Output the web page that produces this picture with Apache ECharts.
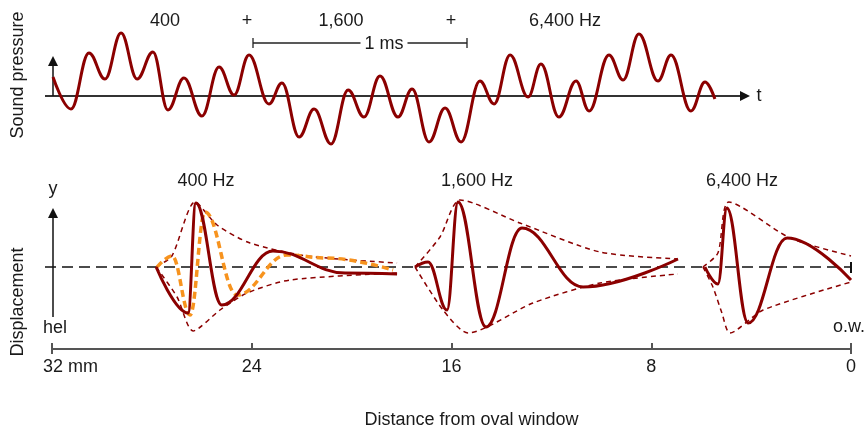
<!DOCTYPE html>
<html>
<head>
<meta charset="utf-8">
<script src="https://cdn.jsdelivr.net/npm/echarts@6/dist/echarts.min.js"></script>
<style>
  html, body { margin: 0; padding: 0; background: #fff; }
  #main { width: 865px; height: 432px; }
</style>
</head>
<body>
<div id="main"></div>
<script>
// top: sound pressure vs time (ms), peaks and troughs
var waveT = [0.000, 0.084, 0.168, 0.243, 0.318, 0.393, 0.467, 0.537, 0.612, 0.696,
             0.776, 0.846, 0.916, 1.009, 1.070, 1.150, 1.220, 1.299, 1.379, 1.453,
             1.528, 1.612, 1.678, 1.757, 1.832, 1.907, 1.995, 2.061, 2.136, 2.220,
             2.280, 2.364, 2.444, 2.505, 2.598, 2.664, 2.738, 2.827, 2.888, 2.981,
             3.047, 3.093];
var waveP = [1.9, -1.3, 4.3, 1.7, 6.3, 1.7, 4.4, -1.4, 1.8, -2.0,
             2.9, 0.1, 4.1, -0.8, 1.3, -4.1, -1.3, -4.8, 0.6, -2.1,
             2.0, -2.1, 0.7, -4.6, -1.2, -4.6, 1.5, -0.8, 4.1, -0.1,
             3.2, -2.1, 1.5, -1.5, 4.1, 1.6, 6.2, 1.5, 4.1, -1.5,
             1.4, -0.3];

// bottom: displacement vs distance from oval window (mm)
var w400D = [27.83, 26.55, 26.24, 25.20, 23.15, 20.26, 18.18];
var w400Y = [0, -4.6, 6.4, -3.8, 1.6, -0.6, -0.7];
var q400D = [27.79, 27.19, 26.47, 25.87, 24.59, 22.59, 20.99, 18.34];
var q400Y = [0, 1.1, -4.8, 5.5, -2.8, 1.2, 0.9, -0.3];
var up400D = [27.83, 27.20, 26.27, 25.39, 24.07, 21.79, 18.18];
var up400Y = [0, 1.1, 6.5, 4.2, 2.4, 1.1, 0.4];
var lo400D = [27.83, 26.99, 26.35, 25.27, 24.19, 22.47, 18.18];
var lo400Y = [0, -3.0, -6.4, -4.3, -2.6, -1.3, -0.6];

var w1600D = [17.46, 16.94, 16.18, 15.74, 14.62, 13.18, 10.73, 6.93];
var w1600Y = [0, 0.5, -4.3, 6.5, -6.0, 3.9, -2.0, 0.8];
var up1600D = [17.46, 16.46, 15.66, 13.26, 10.05, 6.93];
var up1600Y = [0, 3.0, 6.7, 4.4, 1.5, 0.8];
var lo1600D = [17.46, 16.34, 15.34, 12.74, 10.05, 6.93];
var lo1600Y = [0, -4.3, -6.6, -3.6, -1.6, -0.7];

var w6400D = [5.85, 5.33, 4.97, 4.12, 2.56, 0];
var w6400Y = [0, -1.7, 5.9, -5.6, 2.9, -1.3];
var up6400D = [5.93, 5.33, 4.89, 2.44, 0];
var up6400Y = [0, 1.4, 6.5, 2.9, 1.1];
var lo6400D = [5.93, 5.53, 5.17, 4.85, 3.52, 0];
var lo6400Y = [0, -2.0, -4.6, -6.6, -4.3, -1.5];

var distTicks = [32, 24, 16, 8, 0];

var RED = '#8b0000';
var ORANGE = '#f7931e';
var AX = '#333';
var FONT = 'Liberation Sans, Arial, sans-serif';
var FS = 18;

function pairs(xs, ys) {
    return xs.map(function (x, i) { return [x, ys[i]]; });
}

function wave(xs, ys, g) {
    return {
        type: 'line', xAxisIndex: g, yAxisIndex: g,
        data: pairs(xs, ys), smooth: 0.4, smoothMonotone: 'x',
        symbol: 'none', silent: true, clip: false,
        lineStyle: { color: RED, width: 3 }
    };
}
function envelope(xs, ys) {
    return {
        type: 'line', xAxisIndex: 1, yAxisIndex: 1,
        data: pairs(xs, ys), smooth: 0.25,
        symbol: 'none', silent: true, clip: false,
        lineStyle: { color: RED, width: 1.5, type: [5, 4] }
    };
}

function txt(x, y, s, opt) {
    var style = { text: s, x: 0, y: 0, fill: '#1a1a1a', font: FS + 'px ' + FONT,
                  align: 'center', verticalAlign: 'middle' };
    opt = opt || {};
    for (var k in opt) style[k] = opt[k];
    return { type: 'text', x: x, y: y, style: style, silent: true };
}
function seg(x1, y1, x2, y2, w, dash, color) {
    return { type: 'line', shape: { x1: x1, y1: y1, x2: x2, y2: y2 }, silent: true,
             style: { stroke: color || AX, lineWidth: w || 1.5, lineDash: dash || null } };
}
function arrow(pts) {
    return { type: 'polygon', shape: { points: pts }, silent: true, style: { fill: '#111' } };
}

var myChart = echarts.init(document.getElementById('main'), null, { renderer: 'canvas' });

var option = {
    backgroundColor: '#fff',
    animation: false,
    grid: [
        { left: 53, top: 26, width: 706.2, height: 130 },
        { left: 52, top: 197, width: 799, height: 152 }
    ],
    xAxis: [
        { gridIndex: 0, type: 'value', min: 0, max: 3.3, show: false },
        {
            gridIndex: 1, type: 'value', min: 0, max: 32, interval: 8, inverse: true,
            name: 'Distance from oval window', nameLocation: 'middle', nameGap: 62,
            nameTextStyle: { fontFamily: FONT, fontSize: FS, color: '#1a1a1a', padding: [0, 0, 0, 40] },
            axisLine: { onZero: false, lineStyle: { color: '#555', width: 2 } },
            axisTick: { inside: true, length: 6, lineStyle: { color: '#555', width: 2 } },
            splitLine: { show: false },
            axisLabel: {
                margin: 9, fontFamily: FONT, fontSize: FS, color: '#1a1a1a',
                formatter: function (v) { return v === distTicks[0] ? '{a|' + v + ' mm}' : String(v); },
                rich: { a: { fontFamily: FONT, fontSize: FS, color: '#1a1a1a', padding: [0, 0, 0, 37] } }
            }
        }
    ],
    yAxis: [
        { gridIndex: 0, type: 'value', min: -6, max: 7, show: false },
        { gridIndex: 1, type: 'value', min: -8.2, max: 7, show: false }
    ],
    series: [
        wave(waveT, waveP, 0),
        envelope(up400D, up400Y), envelope(lo400D, lo400Y),
        envelope(up1600D, up1600Y), envelope(lo1600D, lo1600Y),
        envelope(up6400D, up6400Y), envelope(lo6400D, lo6400Y),
        {
            type: 'line', xAxisIndex: 1, yAxisIndex: 1,
            data: pairs(q400D, q400Y), smooth: 0.4, smoothMonotone: 'x',
            symbol: 'none', silent: true, clip: false,
            lineStyle: { color: ORANGE, width: 3.5, type: [7, 4] }
        },
        wave(w400D, w400Y, 1),
        wave(w1600D, w1600Y, 1),
        wave(w6400D, w6400Y, 1)
    ],
    graphic: [
        // top axes
        seg(45, 96, 742, 96, 2),
        arrow([[740, 91], [750, 96], [740, 101]]),
        seg(53, 96, 53, 64, 1.5, null, '#111'),
        arrow([[48, 66], [53, 56], [58, 66]]),
        txt(759, 96, 't'),
        // bottom axes
        seg(45, 267, 851, 267, 1.5, [11, 6], '#111'),
        seg(851, 262, 851, 273, 2, null, '#111'),
        seg(53, 317, 53, 216, 1.5, null, '#111'),
        arrow([[48, 218], [53, 208], [58, 218]]),
        txt(53, 189, 'y'),
        seg(52, 344, 52, 354, 2, null, '#555'),
        seg(851, 344, 851, 354, 2, null, '#555'),
        txt(43, 328, 'hel', { align: 'left' }),
        txt(849, 327, 'o.w.'),
        // 1 ms scale bar
        seg(253, 43, 467, 43, 1.3, null, '#222'),
        seg(253, 38, 253, 48, 1.3, null, '#222'),
        seg(467, 38, 467, 48, 1.3, null, '#222'),
        txt(384, 44, '1 ms', { backgroundColor: '#fff', padding: [0, 4] }),
        // labels
        txt(165, 21, '400'),
        txt(247, 21, '+'),
        txt(341, 21, '1,600'),
        txt(451, 21, '+'),
        txt(565, 21, '6,400 Hz'),
        txt(206, 181, '400 Hz'),
        txt(477, 181, '1,600 Hz'),
        txt(742, 181, '6,400 Hz'),
        { type: 'text', x: 18, y: 75, rotation: Math.PI / 2, silent: true,
          style: { text: 'Sound pressure', fill: '#1a1a1a', font: FS + 'px ' + FONT, align: 'center', verticalAlign: 'middle' } },
        { type: 'text', x: 18, y: 302, rotation: Math.PI / 2, silent: true,
          style: { text: 'Displacement', fill: '#1a1a1a', font: FS + 'px ' + FONT, align: 'center', verticalAlign: 'middle' } }
    ]
};

myChart.setOption(option);
</script>
</body>
</html>
